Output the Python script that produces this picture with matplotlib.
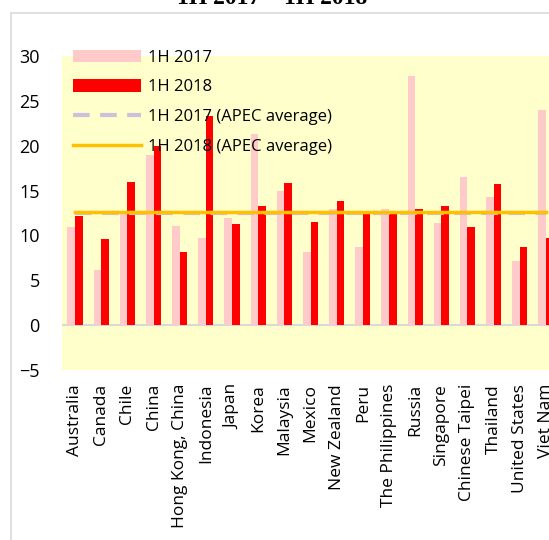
import numpy as np
import matplotlib
matplotlib.use("Agg")
import matplotlib.pyplot as plt
from matplotlib.patches import Rectangle

economies = ['Australia', 'Canada', 'Chile', 'China', 'Hong Kong, China', 'Indonesia',
             'Japan', 'Korea', 'Malaysia', 'Mexico', 'New Zealand', 'Peru',
             'The Philippines', 'Russia', 'Singapore', 'Chinese Taipei', 'Thailand',
             'United States', 'Viet Nam']
h1_2017 = [10.9, 6.1, 12.4, 19.0, 11.0, 9.7, 11.9, 21.3, 14.9, 8.1, 12.9, 8.7,
           12.9, 27.8, 11.4, 16.5, 14.3, 7.2, 24.0]
h1_2018 = [12.2, 9.6, 16.0, 20.0, 8.1, 23.3, 11.3, 13.3, 15.8, 11.5, 13.8, 12.5,
           12.4, 13.0, 13.3, 10.9, 15.7, 8.7, 9.7]
apec_2017 = 12.45
apec_2018 = 12.65

plt.rcParams['font.family'] = ['Open Sans', 'DejaVu Sans']

fig = plt.figure(figsize=(5.49, 5.40), dpi=100)

# chart area border (cropped on the right and bottom)
fig.patches.append(Rectangle((11 / 549, -0.1), 1.2, 1 - 13 / 540 + 0.1,
                             transform=fig.transFigure, fill=False,
                             edgecolor='#d9d9d9', linewidth=1.2))

fig.text(272 / 549, 1 - 4 / 540, '1H 2017 \u2013 1H 2018', ha='center', va='baseline',
         family='Liberation Serif', fontweight='bold', fontsize=17)

ax = fig.add_axes([62 / 549, 170 / 540, 497 / 549, 314 / 540])
ax.set_facecolor('#ffffcc')
x = np.arange(len(economies))
w = 0.29
b1 = ax.bar(x - w / 2, h1_2017, width=w, color='#ffcaca', label='1H 2017', zorder=2)
b2 = ax.bar(x + w / 2, h1_2018, width=w, color='#ff0000', label='1H 2018', zorder=2)
ax.axhline(0, color='#d9d9d9', linewidth=1.5, zorder=1)
l1, = ax.plot(x, [apec_2017] * len(x), color='#ccc0da', linewidth=3, dashes=(4, 2.5),
              label='1H 2017 (APEC average)', zorder=3)
l2, = ax.plot(x, [apec_2018] * len(x), color='#ffc000', linewidth=2.5,
              label='1H 2018 (APEC average)', zorder=4)

ax.set_xlim(-0.5, len(x) - 0.5)
ax.set_ylim(-5, 30)
ax.set_yticks(range(-5, 31, 5))
ax.set_xticks(x)
ax.set_xticklabels(economies, rotation=90, fontsize=12.5)
ax.tick_params(axis='y', length=0, pad=16, labelsize=13)
ax.tick_params(axis='x', length=0, pad=10)
for s in ax.spines.values():
    s.set_visible(False)

fig.legend([b1, b2, l1, l2], [h.get_label() for h in (b1, b2, l1, l2)],
           loc='upper left', bbox_to_anchor=(66 / 549, 1 - 43 / 540),
           frameon=False, fontsize=12, handlelength=4.1, handleheight=0.75,
           labelspacing=0.82, handletextpad=0.4, borderaxespad=0)

fig.savefig('out.png', dpi=100)
